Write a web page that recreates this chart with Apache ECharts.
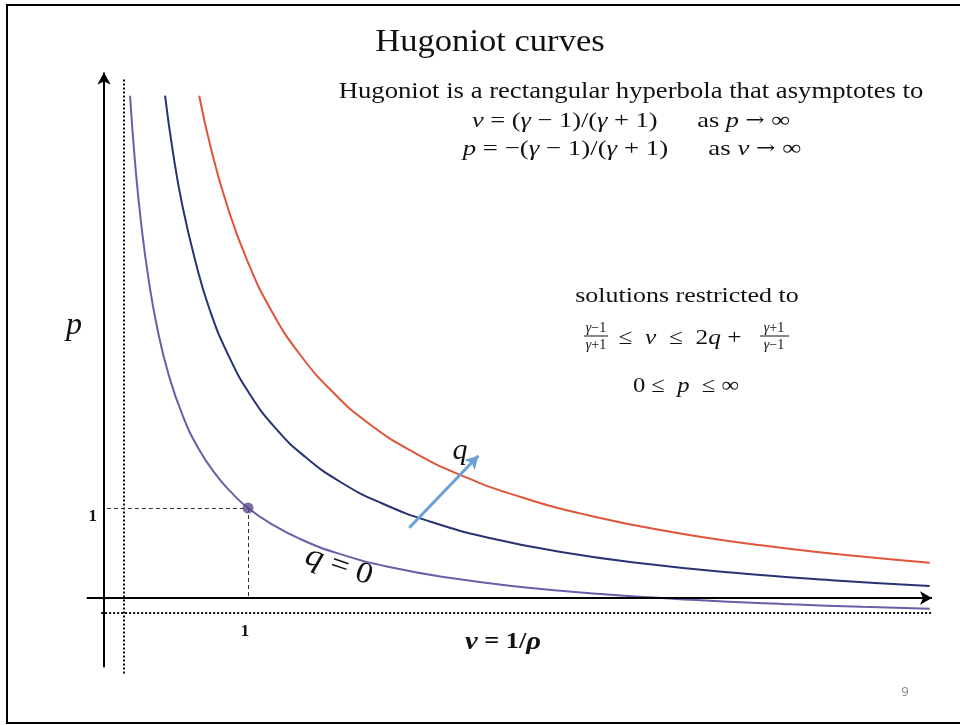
<!DOCTYPE html>
<html>
<head>
<meta charset="utf-8">
<script src="https://cdn.jsdelivr.net/npm/echarts@6/dist/echarts.min.js"></script>
<style>
  html, body { margin: 0; padding: 0; background: #fff; }
  #chart { width: 960px; height: 725px; }
</style>
</head>
<body>
<div id="chart"></div>
<script>
// Hugoniot curves in the (v, p) plane, one per heat release q
const qZeroV = [0.181, 0.214, 0.255, 0.310, 0.372, 0.449, 0.544, 0.653, 0.777, 0.891, 1.000, 1.155, 1.364, 1.642, 1.990, 2.408, 2.895, 3.452, 4.078, 4.774, 5.261, 5.734];
const qZeroP = [5.581, 4.870, 4.203, 3.537, 2.981, 2.481, 2.037, 1.670, 1.370, 1.162, 1.000, 0.830, 0.654, 0.487, 0.341, 0.221, 0.123, 0.044, -0.019, -0.070, -0.098, -0.120];

const qMidV = [0.424, 0.476, 0.543, 0.632, 0.734, 0.862, 1.015, 1.200, 1.399, 1.642, 1.921, 2.269, 2.686, 3.173, 3.730, 4.356, 5.052, 5.734];
const qMidP = [5.581, 4.981, 4.370, 3.759, 3.203, 2.703, 2.259, 1.870, 1.566, 1.289, 1.058, 0.847, 0.664, 0.512, 0.386, 0.282, 0.198, 0.133];

const qHighV = [0.661, 0.745, 0.853, 0.992, 1.159, 1.362, 1.607, 1.848, 2.129, 2.477, 2.895, 3.382, 3.939, 4.565, 5.191, 5.734];
const qHighP = [5.581, 4.981, 4.370, 3.759, 3.203, 2.703, 2.259, 1.928, 1.639, 1.366, 1.122, 0.912, 0.734, 0.586, 0.471, 0.392];

// reference state (v, p) = (1, 1) on the q = 0 curve
const initialState = [1, 1];

// asymptotes: v = (γ-1)/(γ+1), p = -(γ-1)/(γ+1), γ = 1.4
const vAsymptote = 0.14;
const pAsymptote = -0.167;

// tick labels shown on the axes
const xTickLabels = { 1: '1' };
const yTickLabels = { 1: '1' };

const pairs = (xs, ys) => xs.map((x, i) => [x, ys[i]]);

const serif = '"Liberation Serif", "DejaVu Serif", serif';
const chart = echarts.init(document.getElementById('chart'), null, { renderer: 'canvas' });

const curveStyle = (color) => ({
  type: 'line',
  smooth: 0.5,
  showSymbol: false,
  symbol: 'none',
  silent: true,
  lineStyle: { color: color, width: 2 },
  z: 3
});

const seg = (a, b, endSymbol, endSize) => [
  { coord: a, symbol: 'none' },
  { coord: b, symbol: endSymbol || 'none', symbolSize: endSize || 0 }
];

const mathRich = (size) => ({
  i: { fontStyle: 'italic', fontFamily: serif, fontSize: size, fill: '#111' },
  a: { fontFamily: '"DejaVu Serif", serif', fontSize: size - 3, fill: '#111' }
});

const fracRich = { i: { fontStyle: 'italic', fontFamily: serif, fontSize: 14, fill: '#111' } };

const centered = (x, y, text, font, extra) => Object.assign({
  type: 'text', x: x, y: y, silent: true,
  style: { text: text, font: font, fill: '#111', textAlign: 'center', textVerticalAlign: 'middle' }
}, extra || {});

chart.setOption({
  animation: false,
  backgroundColor: '#fff',
  grid: { left: 32, right: 28, top: 58, bottom: 37 },
  xAxis: {
    type: 'value', min: -0.5, max: 5.75, interval: 0.25,
    position: 'bottom', offset: -90,
    axisLine: { show: false }, axisTick: { show: false }, splitLine: { show: false },
    axisLabel: {
      margin: 25, padding: [0, 6, 0, 0],
      fontFamily: serif, fontWeight: 'bold', fontSize: 17, color: '#111',
      formatter: (v) => xTickLabels[v] || ''
    }
  },
  yAxis: {
    type: 'value', min: -1, max: 6, interval: 1,
    position: 'left', offset: -72,
    axisLine: { show: false }, axisTick: { show: false }, splitLine: { show: false },
    axisLabel: {
      margin: 7, verticalAlign: 'top',
      fontFamily: serif, fontWeight: 'bold', fontSize: 17, color: '#111',
      formatter: (v) => yTickLabels[v] || ''
    }
  },
  series: [
    Object.assign(curveStyle('#6b5ea8'), { name: 'q = 0', data: pairs(qZeroV, qZeroP) }),
    Object.assign(curveStyle('#283373'), { name: 'q mid', data: pairs(qMidV, qMidP) }),
    Object.assign(curveStyle('#e0553a'), { name: 'q high', data: pairs(qHighV, qHighP) }),
    {
      type: 'scatter', silent: true, z: 5,
      data: [initialState],
      symbolSize: 11,
      itemStyle: { color: '#5a4a8a' }
    },
    {
      // coordinate axes, asymptotes, guides and the direction of increasing q
      type: 'line', data: [], silent: true,
      markLine: {
        silent: true, animation: false,
        label: { show: false },
        emphasis: { disabled: true },
        data: [
          seg([-0.12, 0], [5.75, 0], 'arrow', [10, 12]),
          seg([0, -0.77], [0, 5.84], 'arrow', [10, 12]),
          seg([vAsymptote, -0.84], [vAsymptote, 5.76]),
          seg([-0.02, pAsymptote], [5.75, pAsymptote]),
          seg([0.02, initialState[1]], initialState),
          seg(initialState, [initialState[0], 0]),
          seg([2.12, 0.78], [2.6, 1.58], 'arrow', [11, 13])
        ].map((d, i) => {
          const styles = [
            { color: '#000', width: 2, type: 'solid' },
            { color: '#000', width: 2, type: 'solid' },
            { color: '#111', width: 2, type: [2, 2] },
            { color: '#111', width: 2, type: [2, 2] },
            { color: '#333', width: 1, type: [4, 3] },
            { color: '#333', width: 1, type: [4, 3] },
            { color: '#6aa0d4', width: 3, type: 'solid' }
          ];
          d[0].lineStyle = styles[i];
          d[1].lineStyle = styles[i];
          return d;
        })
      }
    }
  ],
  graphic: [
    {
      type: 'rect', silent: true, z: 100,
      shape: { x: 7, y: 5, width: 960, height: 718 },
      style: { fill: 'none', stroke: '#000', lineWidth: 2 }
    },
    centered(490, 43, 'Hugoniot curves', '32px ' + serif, { scaleX: 1.08 }),
    centered(631, 92, 'Hugoniot is a rectangular hyperbola that asymptotes to', '23px ' + serif, { scaleX: 1.16 }),
    {
      type: 'text', x: 631, y: 121, silent: true, scaleX: 1.2,
      style: { text: '{i|v} = ({i|γ} − 1)/({i|γ} + 1)      as {i|p} {a|→} ∞', rich: mathRich(22), font: '22px ' + serif, fill: '#111', textAlign: 'center', textVerticalAlign: 'middle' }
    },
    {
      type: 'text', x: 632, y: 149, silent: true, scaleX: 1.22,
      style: { text: '{i|p} = −({i|γ} − 1)/({i|γ} + 1)      as {i|v} {a|→} ∞', rich: mathRich(22), font: '22px ' + serif, fill: '#111', textAlign: 'center', textVerticalAlign: 'middle' }
    },
    centered(687, 296, 'solutions restricted to', '22px ' + serif, { scaleX: 1.18 }),
    // inequality with stacked fractions
    { type: 'text', x: 596, y: 328, silent: true, style: { text: '{i|γ}−1', rich: fracRich, font: '14px ' + serif, fill: '#111', textAlign: 'center', textVerticalAlign: 'middle' } },
    { type: 'line', silent: true, shape: { x1: 584, y1: 336, x2: 608, y2: 336 }, style: { stroke: '#111', lineWidth: 1 } },
    { type: 'text', x: 596, y: 345, silent: true, style: { text: '{i|γ}+1', rich: fracRich, font: '14px ' + serif, fill: '#111', textAlign: 'center', textVerticalAlign: 'middle' } },
    {
      type: 'text', x: 680, y: 338, silent: true, scaleX: 1.15,
      style: { text: '≤  {i|v}  ≤  2{i|q} +', rich: mathRich(22), font: '22px ' + serif, fill: '#111', textAlign: 'center', textVerticalAlign: 'middle' }
    },
    { type: 'text', x: 774, y: 328, silent: true, style: { text: '{i|γ}+1', rich: fracRich, font: '14px ' + serif, fill: '#111', textAlign: 'center', textVerticalAlign: 'middle' } },
    { type: 'line', silent: true, shape: { x1: 760, y1: 336, x2: 789, y2: 336 }, style: { stroke: '#111', lineWidth: 1 } },
    { type: 'text', x: 774, y: 345, silent: true, style: { text: '{i|γ}−1', rich: fracRich, font: '14px ' + serif, fill: '#111', textAlign: 'center', textVerticalAlign: 'middle' } },
    {
      type: 'text', x: 686, y: 386, silent: true, scaleX: 1.12,
      style: { text: '0 ≤  {i|p}  ≤ ∞', rich: mathRich(22), font: '22px ' + serif, fill: '#111', textAlign: 'center', textVerticalAlign: 'middle' }
    },
    centered(74, 326, 'p', 'italic 32px ' + serif),
    {
      type: 'text', x: 503, y: 642, silent: true, scaleX: 1.1,
      style: { text: '{i|v} = 1/{i|ρ}', rich: { i: { fontStyle: 'italic', fontWeight: 'bold', fontFamily: serif, fontSize: 26, fill: '#111' } }, font: 'bold 24px ' + serif, fill: '#111', textAlign: 'center', textVerticalAlign: 'middle' }
    },
    centered(460, 451, 'q', 'italic 30px ' + serif),
    {
      type: 'text', x: 339, y: 566, rotation: -0.33, silent: true, scaleX: 1.1,
      style: { text: '{i|q} = 0', rich: { i: { fontStyle: 'italic', fontFamily: serif, fontSize: 32, fill: '#111' } }, font: '30px ' + serif, fill: '#111', textAlign: 'center', textVerticalAlign: 'middle' }
    },
    {
      type: 'text', x: 905, y: 692, silent: true,
      style: { text: '9', font: '13px "Open Sans", sans-serif', fill: '#888', textAlign: 'center', textVerticalAlign: 'middle' }
    }
  ]
});
</script>
</body>
</html>
